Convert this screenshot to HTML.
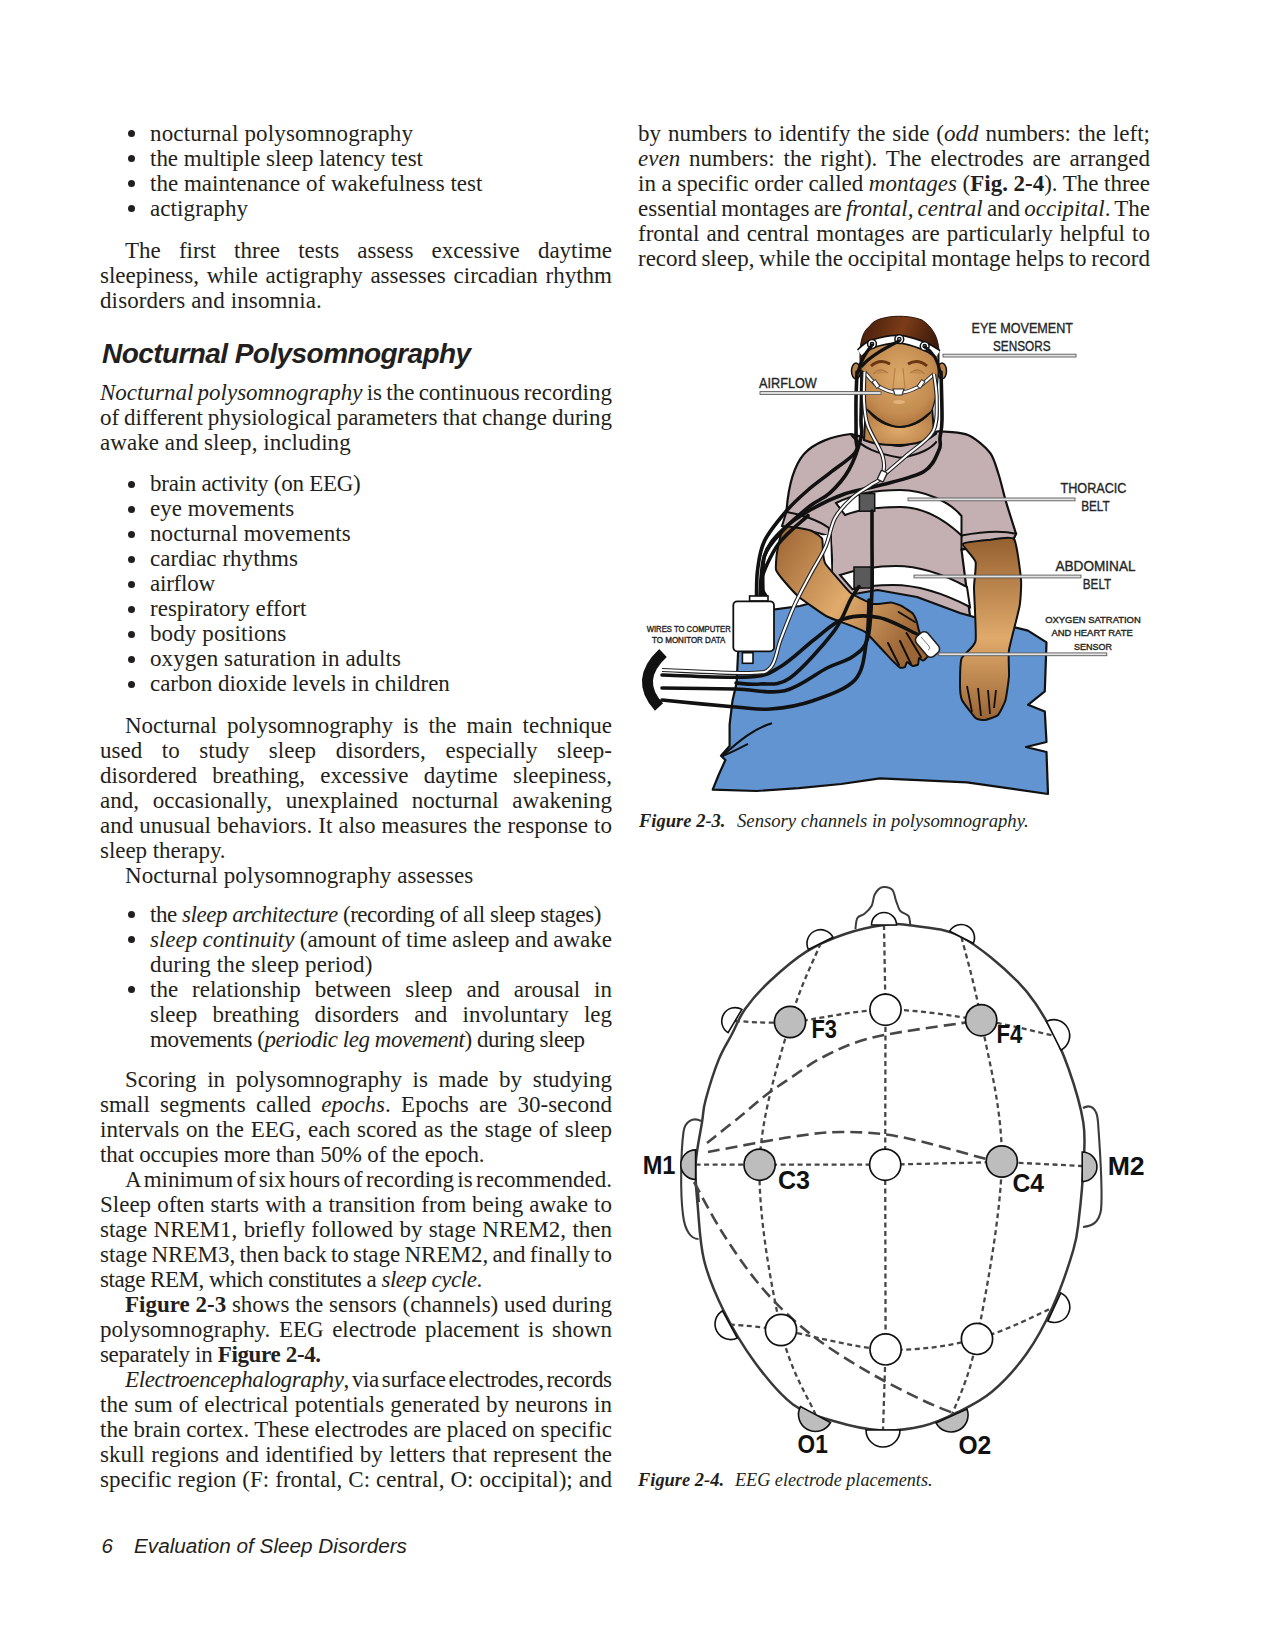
<!DOCTYPE html><html><head><meta charset='utf-8'><style>
html,body{margin:0;padding:0;background:#fff;}
body{width:1275px;height:1650px;position:relative;overflow:hidden;}
.t{position:absolute;white-space:nowrap;font-family:"Liberation Serif",serif;font-size:23px;line-height:25px;color:#231f20;}
.b{position:absolute;width:7px;height:7px;border-radius:50%;background:#231f20;}
</style></head><body>
<div class="t" id="l0" style="left:150px;top:120.74px;letter-spacing:0.178px;">nocturnal polysomnography</div>
<div class="b" style="left:127.69999999999999px;top:130.20px"></div>
<div class="t" id="l1" style="left:150px;top:145.74px;letter-spacing:-0.013px;">the multiple sleep latency test</div>
<div class="b" style="left:127.69999999999999px;top:155.20px"></div>
<div class="t" id="l2" style="left:150px;top:170.74px;letter-spacing:0.009px;">the maintenance of wakefulness test</div>
<div class="b" style="left:127.69999999999999px;top:180.20px"></div>
<div class="t" id="l3" style="left:150px;top:195.74px;letter-spacing:0.102px;">actigraphy</div>
<div class="b" style="left:127.69999999999999px;top:205.20px"></div>
<div class="t" id="l4" style="left:125px;top:237.74px;word-spacing:12.398px;">The first three tests assess excessive daytime</div>
<div class="t" id="l5" style="left:100px;top:262.74px;word-spacing:1.997px;">sleepiness, while actigraphy assesses circadian rhythm</div>
<div class="t" id="l6" style="left:100px;top:287.74px;letter-spacing:0.122px;">disorders and insomnia.</div>
<div class="t" id="l7" style="left:100px;top:380.24px;word-spacing:-1.475px;"><i>Nocturnal polysomnography</i> is the continuous recording</div>
<div class="t" id="l8" style="left:100px;top:405.24px;word-spacing:-0.818px;">of different physiological parameters that change during</div>
<div class="t" id="l9" style="left:100px;top:430.24px;letter-spacing:0.064px;">awake and sleep, including</div>
<div class="t" id="l10" style="left:150px;top:471.24px;letter-spacing:-0.264px;">brain activity (on EEG)</div>
<div class="b" style="left:127.69999999999999px;top:480.70px"></div>
<div class="t" id="l11" style="left:150px;top:496.24px;letter-spacing:0.040px;">eye movements</div>
<div class="b" style="left:127.69999999999999px;top:505.70px"></div>
<div class="t" id="l12" style="left:150px;top:521.24px;letter-spacing:0.114px;">nocturnal movements</div>
<div class="b" style="left:127.69999999999999px;top:530.70px"></div>
<div class="t" id="l13" style="left:150px;top:546.24px;letter-spacing:0.033px;">cardiac rhythms</div>
<div class="b" style="left:127.69999999999999px;top:555.70px"></div>
<div class="t" id="l14" style="left:150px;top:571.24px;letter-spacing:-0.220px;">airflow</div>
<div class="b" style="left:127.69999999999999px;top:580.70px"></div>
<div class="t" id="l15" style="left:150px;top:596.24px;letter-spacing:0.015px;">respiratory effort</div>
<div class="b" style="left:127.69999999999999px;top:605.70px"></div>
<div class="t" id="l16" style="left:150px;top:621.24px;letter-spacing:0.106px;">body positions</div>
<div class="b" style="left:127.69999999999999px;top:630.70px"></div>
<div class="t" id="l17" style="left:150px;top:646.24px;letter-spacing:0.092px;">oxygen saturation in adults</div>
<div class="b" style="left:127.69999999999999px;top:655.70px"></div>
<div class="t" id="l18" style="left:150px;top:671.24px;letter-spacing:-0.052px;">carbon dioxide levels in children</div>
<div class="b" style="left:127.69999999999999px;top:680.70px"></div>
<div class="t" id="l19" style="left:125px;top:713.24px;word-spacing:4.269px;">Nocturnal polysomnography is the main technique</div>
<div class="t" id="l20" style="left:100px;top:738.24px;word-spacing:13.901px;">used to study sleep disorders, especially sleep-</div>
<div class="t" id="l21" style="left:100px;top:763.24px;word-spacing:9.523px;">disordered breathing, excessive daytime sleepiness,</div>
<div class="t" id="l22" style="left:100px;top:788.24px;word-spacing:7.984px;">and, occasionally, unexplained nocturnal awakening</div>
<div class="t" id="l23" style="left:100px;top:813.24px;word-spacing:0.365px;">and unusual behaviors. It also measures the response to</div>
<div class="t" id="l24" style="left:100px;top:838.24px;letter-spacing:-0.049px;">sleep therapy.</div>
<div class="t" id="l25" style="left:125px;top:863.24px;letter-spacing:0.101px;">Nocturnal polysomnography assesses</div>
<div class="t" id="l26" style="left:150px;top:901.74px;letter-spacing:-0.451px;">the <i>sleep architecture</i> (recording of all sleep stages)</div>
<div class="b" style="left:127.69999999999999px;top:911.20px"></div>
<div class="t" id="l27" style="left:150px;top:926.74px;word-spacing:-0.516px;"><i>sleep continuity</i> (amount of time asleep and awake</div>
<div class="b" style="left:127.69999999999999px;top:936.20px"></div>
<div class="t" id="l28" style="left:150px;top:951.74px;letter-spacing:0.140px;">during the sleep period)</div>
<div class="t" id="l29" style="left:150px;top:976.74px;word-spacing:8.234px;">the relationship between sleep and arousal in</div>
<div class="b" style="left:127.69999999999999px;top:986.20px"></div>
<div class="t" id="l30" style="left:150px;top:1001.74px;word-spacing:9.494px;">sleep breathing disorders and involuntary leg</div>
<div class="t" id="l31" style="left:150px;top:1026.74px;letter-spacing:-0.453px;">movements (<i>periodic leg movement</i>) during sleep</div>
<div class="t" id="l32" style="left:125px;top:1066.74px;word-spacing:4.930px;">Scoring in polysomnography is made by studying</div>
<div class="t" id="l33" style="left:100px;top:1091.74px;word-spacing:4.536px;">small segments called <i>epochs</i>. Epochs are 30-second</div>
<div class="t" id="l34" style="left:100px;top:1116.74px;word-spacing:1.066px;">intervals on the EEG, each scored as the stage of sleep</div>
<div class="t" id="l35" style="left:100px;top:1141.74px;letter-spacing:-0.191px;">that occupies more than 50% of the epoch.</div>
<div class="t" id="l36" style="left:125px;top:1166.74px;word-spacing:-2.445px;">A minimum of six hours of recording is recommended.</div>
<div class="t" id="l37" style="left:100px;top:1191.74px;word-spacing:0.325px;">Sleep often starts with a transition from being awake to</div>
<div class="t" id="l38" style="left:100px;top:1216.74px;word-spacing:0.594px;">stage NREM1, briefly followed by stage NREM2, then</div>
<div class="t" id="l39" style="left:100px;top:1241.74px;word-spacing:-1.524px;">stage NREM3, then back to stage NREM2, and finally to</div>
<div class="t" id="l40" style="left:100px;top:1266.74px;letter-spacing:-0.481px;">stage REM, which constitutes a <i>sleep cycle</i>.</div>
<div class="t" id="l41" style="left:125px;top:1291.74px;word-spacing:0.002px;"><b>Figure 2-3</b> shows the sensors (channels) used during</div>
<div class="t" id="l42" style="left:100px;top:1316.74px;word-spacing:2.800px;">polysomnography. EEG electrode placement is shown</div>
<div class="t" id="l43" style="left:100px;top:1341.74px;letter-spacing:-0.351px;">separately in <b>Figure 2-4.</b></div>
<div class="t" id="l44" style="left:125px;top:1366.74px;word-spacing:-2.5px;letter-spacing:-0.360px;"><i>Electroencephalography</i>, via surface electrodes, records</div>
<div class="t" id="l45" style="left:100px;top:1391.74px;word-spacing:0.451px;">the sum of electrical potentials generated by neurons in</div>
<div class="t" id="l46" style="left:100px;top:1416.74px;word-spacing:-0.363px;">the brain cortex. These electrodes are placed on specific</div>
<div class="t" id="l47" style="left:100px;top:1441.74px;word-spacing:0.768px;">skull regions and identified by letters that represent the</div>
<div class="t" id="l48" style="left:100px;top:1466.74px;word-spacing:0.291px;">specific region (F: frontal, C: central, O: occipital); and</div>
<div class="t" id="l49" style="left:638px;top:120.74px;word-spacing:1.172px;">by numbers to identify the side (<i>odd</i> numbers: the left;</div>
<div class="t" id="l50" style="left:638px;top:145.74px;word-spacing:3.138px;"><i>even</i> numbers: the right). The electrodes are arranged</div>
<div class="t" id="l51" style="left:638px;top:170.74px;word-spacing:-0.191px;">in a specific order called <i>montages</i> (<b>Fig. 2-4</b>). The three</div>
<div class="t" id="l52" style="left:638px;top:195.74px;word-spacing:-1.592px;">essential montages are <i>frontal, central</i> and <i>occipital</i>. The</div>
<div class="t" id="l53" style="left:638px;top:220.74px;word-spacing:1.342px;">frontal and central montages are particularly helpful to</div>
<div class="t" id="l54" style="left:638px;top:245.74px;word-spacing:-1.062px;">record sleep, while the occipital montage helps to record</div>

<div style="position:absolute;left:102px;top:336.70px;font-family:'Liberation Sans',sans-serif;font-weight:bold;font-style:italic;font-size:28px;letter-spacing:-0.57px;line-height:34px;white-space:nowrap;color:#231f20">Nocturnal Polysomnography</div>
<svg style="position:absolute;left:0;top:0" width="1275" height="1650" viewBox="0 0 1275 1650">
<defs>
<radialGradient id="face" cx="0.5" cy="0.42" r="0.62"><stop offset="0" stop-color="#dcaa6a"/><stop offset="0.7" stop-color="#c48c50"/><stop offset="1" stop-color="#a8703c"/></radialGradient>
<radialGradient id="neck" cx="0.5" cy="0.6" r="0.6"><stop offset="0" stop-color="#e0ac6c"/><stop offset="1" stop-color="#b57c45"/></radialGradient>
<linearGradient id="hair" x1="0" y1="0" x2="1" y2="0.3"><stop offset="0" stop-color="#3e1a0a"/><stop offset="0.55" stop-color="#7c3c18"/><stop offset="1" stop-color="#3e1a0a"/></linearGradient>
<linearGradient id="armL" x1="0" y1="0" x2="1" y2="0.6"><stop offset="0" stop-color="#9a6232"/><stop offset="0.55" stop-color="#e0ab6c"/><stop offset="1" stop-color="#9c6636"/></linearGradient>
<linearGradient id="armR" x1="0" y1="0" x2="0" y2="1"><stop offset="0" stop-color="#95602f"/><stop offset="0.55" stop-color="#e0aa6c"/><stop offset="1" stop-color="#9a6535"/></linearGradient>
</defs>
<path d="M851.0,434.0 C853.0,434.5 859.4,436.4 866.0,438.0 C872.6,439.6 891.2,446.4 900.3,446.0 C909.4,445.6 929.0,436.9 934.0,435.0 C939.0,433.1 933.5,431.4 938.0,431.4 C942.5,431.4 961.1,432.2 968.0,435.0 C974.9,437.8 985.9,447.5 990.0,452.7 C994.1,457.9 996.4,467.7 998.5,474.0 C1000.6,480.3 1003.2,492.0 1005.5,500.0 C1007.8,508.0 1014.6,529.2 1016.0,533.7 L1012.5,541 L961.5,549.6 L970,616 L830,616 L832,560 L830,530 L810.6,520 L786.4,512 C788,490 792,468 804,454 C814,443 832,436 851,434 Z" fill="#c4b0b3" stroke="#111" stroke-width="2.2" stroke-linejoin="round"/>
<path d="M786.4,512 C800,514 818,520 829,528 L829,536 C815,532 798,528 782,526 Z" fill="#c4b0b3" stroke="#111" stroke-width="2"/>
<path d="M961.5,535.5 C980,532 1000,530 1016,533.7 L1012.5,541 C995,540 975,545 961.5,549.6 Z" fill="#c4b0b3" stroke="#111" stroke-width="2"/>
<path d="M820,536 L831,534 L833,600 L822,600 Z" fill="#fff" stroke="none"/><path d="M831,534 L833,600" stroke="#111" stroke-width="1.6"/>
<path d="M866,405 L864,440 C880,447 920,448 934,435 L932,405 Z" fill="url(#neck)" stroke="#111" stroke-width="2"/>
<path d="M851.3,435 C862,448 878,454 900.3,457.7 C920,455 932,448 936.7,441.4" fill="none" stroke="#111" stroke-width="2"/>
<path d="M860,374 L860,350 C861,338 864,330 870,326 C872,322 878,319 884,318 C895,315 912,316 922,320 C933,327 938,338 939,350 L939,374 Z" fill="url(#hair)" stroke="#2a1206" stroke-width="1"/>
<ellipse cx="856" cy="371" rx="4.5" ry="8" fill="#b98048" stroke="#111" stroke-width="1.5"/>
<ellipse cx="942" cy="371" rx="4.5" ry="8" fill="#b98048" stroke="#111" stroke-width="1.5"/>
<path d="M861.6,350 C860,370 861,394 866,408 C874,420 886,427 900,427 C914,427 926,420 932,410 C938,394 939,370 938,350 C920,338 880,338 861.6,350 Z" fill="url(#face)" stroke="#111" stroke-width="1.2"/>
<path d="M867.6,410 C880,422 890,427 900.3,427 C912,427 922,420 930.4,412.5" fill="none" stroke="#111" stroke-width="2"/>
<path d="M871,366 Q880,358 890,364" fill="none" stroke="#6a3510" stroke-width="3"/>
<path d="M908,364 Q918,358 927,366" fill="none" stroke="#6a3510" stroke-width="3"/>
<path d="M873,374 Q880,366 888,373" fill="#c08a50" stroke="#a87040" stroke-width="1"/><path d="M910,373 Q918,366 925,374" fill="#c08a50" stroke="#a87040" stroke-width="1"/>
<path d="M895,368 L893,388 M903,368 L905,388" stroke="#b98048" stroke-width="1.2"/>
<ellipse cx="899" cy="402" rx="6" ry="2" fill="#e2b27a"/>
<path d="M859.8,353.0 C861.8,351.5 865.4,346.3 872.0,344.0 C878.6,341.7 890.5,338.8 899.3,339.2 C908.1,339.6 918.2,343.7 924.7,346.2 C931.2,348.7 935.8,352.7 938.0,354.0" fill="none" stroke="#111" stroke-width="9.5"/>
<path d="M859.8,353.0 C861.8,351.5 865.4,346.3 872.0,344.0 C878.6,341.7 890.5,338.8 899.3,339.2 C908.1,339.6 918.2,343.7 924.7,346.2 C931.2,348.7 935.8,352.7 938.0,354.0" fill="none" stroke="#fff" stroke-width="6"/>
<circle cx="872" cy="344" r="4.4" fill="#fff" stroke="#111" stroke-width="1.5"/><circle cx="872" cy="344" r="1.7" fill="none" stroke="#111" stroke-width="1.3"/>
<circle cx="899.3" cy="339.2" r="4.4" fill="#fff" stroke="#111" stroke-width="1.5"/><circle cx="899.3" cy="339.2" r="1.7" fill="none" stroke="#111" stroke-width="1.3"/>
<circle cx="924.7" cy="346.2" r="4.4" fill="#fff" stroke="#111" stroke-width="1.5"/><circle cx="924.7" cy="346.2" r="1.7" fill="none" stroke="#111" stroke-width="1.3"/>
<path d="M899,341 C885,348 870,356 862,366" fill="none" stroke="#111" stroke-width="3.2" stroke-linecap="round"/>
<path d="M872,345 C866,352 861,360 858,372" fill="none" stroke="#111" stroke-width="3.2" stroke-linecap="round"/>
<path d="M925,347 C933,352 938,360 940,372" fill="none" stroke="#111" stroke-width="3.2" stroke-linecap="round"/>
<path d="M864.5,372.0 C866.8,374.3 872.4,382.5 878.0,386.0 C883.6,389.5 891.7,392.6 898.4,392.8 C905.1,393.0 912.1,390.1 918.0,387.0 C923.9,383.9 931.3,376.2 934.0,374.0" fill="none" stroke="#333" stroke-width="4"/>
<path d="M864.5,372.0 C866.8,374.3 872.4,382.5 878.0,386.0 C883.6,389.5 891.7,392.6 898.4,392.8 C905.1,393.0 912.1,390.1 918.0,387.0 C923.9,383.9 931.3,376.2 934.0,374.0" fill="none" stroke="#fff" stroke-width="2.2"/>
<path d="M893,389 L904,389 L902,395 L895,395 Z" fill="#fff" stroke="#333" stroke-width="1.2"/>
<rect x="874" y="380" width="4" height="8" fill="#fff" stroke="#333" stroke-width="1" transform="rotate(-35 876 384)"/><rect x="919" y="380" width="4" height="8" fill="#fff" stroke="#333" stroke-width="1" transform="rotate(35 921 384)"/>
<path d="M836,503 C850,496 870,490 900,490 C925,490 950,502 961.5,516 L961.5,535.5 C945,520 925,507 900,507 C875,507 858,510 845,515 Z" fill="#fff" stroke="#111" stroke-width="2"/>
<path d="M840,575 C855,570 875,566 896,566 C920,566 945,575 967,587 L970,607 C945,594 920,585 893,585 C875,585 862,587 852.5,589.4 Z" fill="#fff" stroke="#111" stroke-width="2"/>
<path d="M738,654 L741,617 L756,612 L800,606 L830,598 L854,594 L877.6,590 L917,597 L960,613 L974,617 L1028,630.6 L1046.5,642.4 L1044.8,691.3 L1028,704.8 L1044.8,711.5 L1046.5,742 L1026,747 L1046.5,752 L1048,794 L967,782.4 L880,778.4 L841.2,784 L798.8,788.2 L756.5,791 L712.7,789.7 L718.4,775.5 L725.4,760 L721,755.8 L729.6,746 L729.6,724.7 L732.5,700.7 L736.7,682.4Z" fill="#6194d0" stroke="#111" stroke-width="2.2" stroke-linejoin="round"/>
<path d="M722.6,755.8 C740,740 755,728 772,723.3" fill="none" stroke="#111" stroke-width="2.2"/><path d="M722.6,756 C732,752 740,748 748,743.8" fill="none" stroke="#111" stroke-width="2"/>
<path d="M784.0,527.0 C781.5,528.6 777.6,549.2 777.0,552.4 C776.4,555.6 775.5,567.6 776.0,569.7 C776.5,571.8 782.3,579.0 784.0,581.0 C785.7,583.0 795.9,594.4 799.0,597.0 C802.1,599.6 822.2,613.9 826.0,616.0 C829.8,618.1 847.0,624.1 850.0,625.3 C853.0,626.5 863.3,630.6 865.7,632.4 C868.1,634.2 879.4,646.7 881.4,648.8 C883.4,650.9 891.0,659.2 892.4,660.6 C893.8,662.0 899.1,667.1 900.0,667.6 C900.9,668.1 904.5,667.4 905.0,667.0 C905.5,666.6 906.4,662.1 907.0,662.0 C907.6,661.9 911.9,665.8 912.7,666.0 C913.5,666.2 917.5,665.1 918.0,664.5 C918.5,663.9 918.6,658.3 919.0,658.0 C919.4,657.7 922.3,660.8 923.0,660.6 C923.7,660.4 928.3,657.2 928.0,655.0 C927.7,652.8 919.8,633.3 919.0,630.8 C918.2,628.3 917.2,622.7 916.7,621.4 C916.2,620.1 913.9,614.7 912.7,613.5 C911.5,612.3 902.6,606.5 901.0,605.7 C899.4,604.9 892.9,602.6 890.8,602.5 C888.7,602.4 875.9,604.4 873.5,604.0 C871.1,603.6 861.2,598.7 859.4,597.8 C857.6,596.9 852.5,594.9 850.0,592.4 C847.5,589.9 827.6,567.0 825.6,564.0 C823.6,561.0 823.3,554.3 823.0,552.4 C822.7,550.5 822.9,540.2 822.0,538.6 C821.1,537.0 813.5,531.4 810.6,530.5 C807.8,529.6 786.5,525.4 784.0,527.0Z" fill="url(#armL)" stroke="#111" stroke-width="2"/>
<path d="M888,643 L899,665 M900,641 L911,664 M906.5,633 L921,657 M898.6,612 L915,622" stroke="#111" stroke-width="2" fill="none" stroke-linecap="round"/>
<path d="M963.0,544.0 C964.0,542.2 983.8,540.4 988.0,540.0 C992.2,539.6 1011.2,535.7 1014.0,539.0 C1016.8,542.3 1020.5,573.9 1021.0,579.5 C1021.5,585.1 1020.6,600.1 1019.6,606.0 C1018.6,611.9 1009.9,644.2 1009.0,650.0 C1008.1,655.8 1009.3,671.8 1009.0,676.0 C1008.7,680.2 1006.4,696.8 1005.5,700.0 C1004.6,703.2 999.7,713.3 998.0,715.0 C996.3,716.7 986.9,719.8 985.0,720.0 C983.1,720.2 977.5,719.7 975.6,718.0 C973.7,716.3 963.3,702.8 962.0,700.0 C960.7,697.2 960.0,688.5 960.0,685.0 C960.0,681.5 960.2,662.3 961.5,658.6 C962.8,654.9 974.6,646.9 975.6,641.0 C976.6,635.1 974.0,594.6 974.0,588.0 C974.0,581.4 976.5,565.7 975.6,562.0 C974.7,558.3 962.0,545.8 963.0,544.0Z" fill="url(#armR)" stroke="#111" stroke-width="2"/>
<path d="M967,686 L972,712 M978,688 L981,716 M988,690 L990,714 M996,690 L994,708" stroke="#111" stroke-width="1.8" fill="none"/>
<rect x="859.4" y="493.5" width="15.3" height="17.7" fill="#5a5a5a" stroke="#111" stroke-width="1.5"/>
<rect x="854" y="567" width="19" height="21" fill="#5a5a5a" stroke="#111" stroke-width="1.5"/>
<path d="M857.0,372.0 C856.8,376.7 856.2,389.1 856.0,400.0 C855.8,410.9 856.2,428.8 856.0,437.6 C855.8,446.4 859.3,446.8 855.0,452.7 C850.7,458.6 837.8,466.6 830.0,472.8 C822.2,479.0 815.3,483.6 808.0,490.0 C800.7,496.4 793.6,502.5 786.4,511.0 C779.1,519.5 769.3,531.1 764.5,540.9 C759.7,550.7 758.9,560.5 757.6,569.7 C756.3,578.9 756.7,591.6 756.5,596.0" fill="none" stroke="#111" stroke-width="3.6" stroke-linecap="round"/>
<path d="M862.0,372.0 C861.8,380.0 861.2,409.1 861.0,420.0 C860.8,430.9 863.0,429.3 861.0,437.6 C859.0,445.9 854.0,460.8 848.8,470.0 C843.6,479.2 836.5,486.9 830.0,492.9 C823.5,498.9 817.7,499.9 810.0,506.0 C802.3,512.1 791.6,521.1 784.0,529.4 C776.4,537.7 768.5,544.7 764.5,555.8 C760.5,566.9 760.8,589.3 760.0,596.0" fill="none" stroke="#111" stroke-width="3.6" stroke-linecap="round"/>
<path d="M941.0,372.0 C941.2,380.0 942.2,409.1 942.0,420.0 C941.8,430.9 940.5,432.6 940.0,437.6 C939.5,442.6 941.7,444.4 939.0,450.0 C936.3,455.6 933.8,465.6 924.0,471.5 C914.2,477.4 893.2,481.6 880.0,485.3 C866.8,489.0 856.6,489.6 845.0,493.7 C833.4,497.8 821.1,503.7 810.6,509.8 C800.1,515.9 789.5,522.8 781.8,530.5 C774.1,538.2 767.6,544.9 764.5,555.8 C761.4,566.7 763.2,589.3 763.0,596.0" fill="none" stroke="#111" stroke-width="3.6" stroke-linecap="round"/>
<path d="M808.0,515.6 C803.1,520.3 786.2,533.1 778.4,544.0 C770.6,554.9 763.1,572.3 761.0,581.0 C758.9,589.7 765.2,593.5 766.0,596.0" fill="none" stroke="#111" stroke-width="3.6" stroke-linecap="round"/>
<path d="M662.0,675.0 C676.5,675.3 729.3,678.3 749.0,677.0 C768.7,675.7 769.0,673.3 780.0,667.0 C791.0,660.7 804.4,647.0 815.0,639.0 C825.6,631.0 832.8,622.6 843.5,619.0 C854.2,615.4 866.6,615.0 879.0,617.6 C891.4,620.2 911.5,631.8 918.0,634.6" fill="none" stroke="#111" stroke-width="3.6" stroke-linecap="round"/>
<path d="M736.0,683.0 C740.0,683.2 751.0,684.8 760.0,684.0 C769.0,683.2 777.7,686.7 790.0,678.0 C802.3,669.3 823.5,644.9 833.6,631.8 C843.7,618.7 846.4,606.8 850.6,599.3 C854.8,591.8 857.6,588.7 859.0,586.6" fill="none" stroke="#111" stroke-width="3.6" stroke-linecap="round"/>
<path d="M662.0,688.0 C674.2,688.2 714.5,688.5 735.0,689.0 C755.5,689.5 769.4,694.3 784.7,690.8 C800.0,687.3 815.8,673.6 827.0,668.0 C838.2,662.4 845.2,661.8 852.0,657.0 C858.8,652.2 864.2,649.6 867.5,639.0 C870.8,628.4 871.0,610.1 871.8,593.6 C872.5,577.1 872.0,553.8 872.0,540.0 C872.0,526.2 872.0,515.8 872.0,511.0" fill="none" stroke="#111" stroke-width="3.6" stroke-linecap="round"/>
<path d="M662.0,700.0 C674.2,701.2 717.2,705.5 735.3,707.0 C753.4,708.5 757.6,710.0 770.6,709.0 C783.6,708.0 798.9,705.6 813.0,700.7 C827.1,695.8 846.4,689.6 855.3,679.5 C864.2,669.4 864.3,653.2 866.6,640.0 C868.9,626.8 868.6,606.7 869.0,600.0" fill="none" stroke="#111" stroke-width="3.6" stroke-linecap="round"/>
<path d="M662.0,670.0 C676.5,670.5 730.8,673.5 749.0,673.0 C767.2,672.5 765.8,672.5 771.0,667.0 C776.2,661.5 776.5,650.5 780.5,640.0 C784.5,629.5 790.1,614.8 795.0,604.0 C799.9,593.2 804.9,584.6 810.0,575.0 C815.1,565.4 821.4,556.1 825.6,546.6 C829.8,537.1 830.6,526.1 835.0,518.0 C839.4,509.9 846.2,503.4 852.0,498.0 C857.8,492.6 865.0,489.2 870.0,485.6 C875.0,482.0 879.9,481.4 882.0,476.5 C884.1,471.6 885.1,465.1 882.7,456.5 C880.3,447.9 870.7,434.4 867.6,425.0 C864.5,415.6 864.5,408.8 864.0,400.0 C863.5,391.2 864.4,376.7 864.5,372.0" fill="none" stroke="#222" stroke-width="4.2"/>
<path d="M662.0,670.0 C676.5,670.5 730.8,673.5 749.0,673.0 C767.2,672.5 765.8,672.5 771.0,667.0 C776.2,661.5 776.5,650.5 780.5,640.0 C784.5,629.5 790.1,614.8 795.0,604.0 C799.9,593.2 804.9,584.6 810.0,575.0 C815.1,565.4 821.4,556.1 825.6,546.6 C829.8,537.1 830.6,526.1 835.0,518.0 C839.4,509.9 846.2,503.4 852.0,498.0 C857.8,492.6 865.0,489.2 870.0,485.6 C875.0,482.0 879.9,481.4 882.0,476.5 C884.1,471.6 885.1,465.1 882.7,456.5 C880.3,447.9 870.7,434.4 867.6,425.0 C864.5,415.6 864.5,408.8 864.0,400.0 C863.5,391.2 864.4,376.7 864.5,372.0" fill="none" stroke="#fff" stroke-width="2"/>
<path d="M882.0,476.5 C885.9,473.2 896.8,464.0 905.3,456.5 C913.8,449.0 927.8,440.8 933.0,431.4 C938.2,422.0 936.5,409.6 936.7,400.0 C936.9,390.4 934.5,378.3 934.0,374.0" fill="none" stroke="#222" stroke-width="4.2"/>
<path d="M882.0,476.5 C885.9,473.2 896.8,464.0 905.3,456.5 C913.8,449.0 927.8,440.8 933.0,431.4 C938.2,422.0 936.5,409.6 936.7,400.0 C936.9,390.4 934.5,378.3 934.0,374.0" fill="none" stroke="#fff" stroke-width="2"/>
<rect x="879" y="471" width="6.5" height="10" rx="1" fill="#fff" stroke="#222" stroke-width="1.3" transform="rotate(25 882 476)"/>
<rect x="749.6" y="596" width="18.4" height="5" fill="#fff" stroke="#111" stroke-width="1.6"/>
<rect x="733.3" y="601.3" width="40.7" height="50" rx="4" fill="#fff" stroke="#111" stroke-width="1.8"/>
<rect x="742.4" y="652.7" width="10.6" height="10.6" fill="#fff" stroke="#111" stroke-width="1.6"/>
<path d="M663,653 Q634,680 659,707" fill="none" stroke="#111" stroke-width="11"/>
<rect x="914.5" y="637" width="26" height="15" rx="5" fill="#fff" stroke="#222" stroke-width="1.6" transform="rotate(50 927.5 644.5)"/><path d="M921,637 L929,646 Q931,649 928,650" fill="none" stroke="#777" stroke-width="1"/>
<rect x="943" y="354.20000000000005" width="133" height="2.8" fill="#e4e4e4" stroke="#5a5a5a" stroke-width="0.9"/>
<rect x="760" y="391.6" width="121" height="2.8" fill="#e4e4e4" stroke="#5a5a5a" stroke-width="0.9"/>
<rect x="908" y="498.0" width="167" height="2.8" fill="#e4e4e4" stroke="#5a5a5a" stroke-width="0.9"/>
<rect x="914" y="575.1" width="167" height="2.8" fill="#e4e4e4" stroke="#5a5a5a" stroke-width="0.9"/>
<rect x="938.7" y="652.9" width="168.0999999999999" height="2.8" fill="#e4e4e4" stroke="#5a5a5a" stroke-width="0.9"/>
<text x="971.5" y="333" textLength="101.5" font-size="14" stroke-width="0.35" font-family="Liberation Sans" fill="#262626" stroke="#262626" lengthAdjust="spacingAndGlyphs">EYE MOVEMENT</text>
<text x="993" y="350.8" textLength="57.6" font-size="14" stroke-width="0.35" font-family="Liberation Sans" fill="#262626" stroke="#262626" lengthAdjust="spacingAndGlyphs">SENSORS</text>
<text x="759" y="387.5" textLength="57.8" font-size="14" stroke-width="0.35" font-family="Liberation Sans" fill="#262626" stroke="#262626" lengthAdjust="spacingAndGlyphs">AIRFLOW</text>
<text x="1060.5" y="493.4" textLength="66" font-size="14" stroke-width="0.35" font-family="Liberation Sans" fill="#262626" stroke="#262626" lengthAdjust="spacingAndGlyphs">THORACIC</text>
<text x="1081.2" y="510.9" textLength="28.5" font-size="14" stroke-width="0.35" font-family="Liberation Sans" fill="#262626" stroke="#262626" lengthAdjust="spacingAndGlyphs">BELT</text>
<text x="1055.5" y="571.4" textLength="80" font-size="14" stroke-width="0.35" font-family="Liberation Sans" fill="#262626" stroke="#262626" lengthAdjust="spacingAndGlyphs">ABDOMINAL</text>
<text x="1082.8" y="589.2" textLength="28.4" font-size="14" stroke-width="0.35" font-family="Liberation Sans" fill="#262626" stroke="#262626" lengthAdjust="spacingAndGlyphs">BELT</text>
<text x="1045.2" y="622.6" textLength="95.6" font-size="9.6" stroke-width="0.4" font-family="Liberation Sans" fill="#262626" stroke="#262626" lengthAdjust="spacingAndGlyphs">OXYGEN SATRATION</text>
<text x="1051.5" y="636.4" textLength="81.2" font-size="9.6" stroke-width="0.4" font-family="Liberation Sans" fill="#262626" stroke="#262626" lengthAdjust="spacingAndGlyphs">AND HEART RATE</text>
<text x="1074" y="650.3" textLength="38" font-size="9.6" stroke-width="0.4" font-family="Liberation Sans" fill="#262626" stroke="#262626" lengthAdjust="spacingAndGlyphs">SENSOR</text>
<text x="646.7" y="632" textLength="84" font-size="9.4" stroke-width="0.4" font-family="Liberation Sans" fill="#262626" stroke="#262626" lengthAdjust="spacingAndGlyphs">WIRES TO COMPUTER</text>
<text x="652" y="642.7" textLength="73.3" font-size="9.4" stroke-width="0.4" font-family="Liberation Sans" fill="#262626" stroke="#262626" lengthAdjust="spacingAndGlyphs">TO MONITOR DATA</text>
<path d="M701,1121 C693,1117 685,1121 683.5,1132 C681,1150 680,1192 683,1215 C685,1231 691,1239 698.5,1239" fill="none" stroke="#3c3c3c" stroke-width="2.1"/><path d="M698,1190 L699,1202" stroke="#3c3c3c" stroke-width="2"/>
<path d="M1083,1108 C1090,1104 1097,1107 1098,1122 C1100,1150 1103,1190 1101,1210 C1099,1222 1093,1226 1083,1227" fill="none" stroke="#3c3c3c" stroke-width="2.1"/>
<path d="M855.4,929.1 C855.7,927.2 855.9,920.5 857.4,918.0 C858.9,915.5 862.1,915.8 864.5,913.8 C866.9,911.8 870.0,908.9 871.7,905.7 C873.4,902.5 873.0,897.6 874.7,894.5 C876.4,891.4 879.0,888.1 881.9,887.3 C884.8,886.4 889.6,887.2 892.0,889.4 C894.4,891.6 894.6,897.0 896.0,900.6 C897.4,904.2 898.1,908.2 900.2,910.8 C902.3,913.3 906.7,913.4 908.4,915.9 C910.1,918.4 910.1,924.3 910.4,926.0" fill="#fff" stroke="#3c3c3c" stroke-width="2"/>
<path d="M884.0,925.0 C895.1,923.6 898.9,923.5 911.8,925.5 C924.7,927.5 943.9,927.6 961.5,937.0 C979.1,946.4 1003.1,966.9 1017.7,981.7 C1032.4,996.5 1040.9,1011.5 1049.4,1026.0 C1057.9,1040.5 1062.8,1052.4 1068.5,1068.5 C1074.2,1084.6 1080.8,1106.4 1083.3,1122.4 C1085.8,1138.4 1084.2,1148.8 1083.5,1164.7 C1082.8,1180.6 1080.7,1203.4 1079.0,1217.6 C1077.3,1231.8 1077.7,1235.1 1073.3,1250.0 C1068.9,1264.9 1060.4,1289.8 1052.6,1307.0 C1044.8,1324.2 1036.8,1339.4 1026.7,1353.5 C1016.6,1367.6 1003.7,1381.7 992.2,1391.5 C980.7,1401.3 969.2,1406.5 957.7,1412.2 C946.2,1418.0 936.1,1423.0 923.1,1426.0 C910.1,1429.0 894.8,1431.1 880.0,1430.3 C865.2,1429.5 848.9,1425.6 834.4,1421.3 C819.9,1417.0 806.2,1414.1 793.0,1404.4 C779.8,1394.7 766.9,1378.7 755.3,1363.0 C743.7,1347.3 731.8,1327.2 723.3,1310.0 C714.8,1292.8 708.2,1277.2 704.0,1260.0 C699.8,1242.8 699.2,1222.9 697.8,1207.0 C696.4,1191.1 694.9,1178.8 695.6,1164.7 C696.3,1150.6 700.3,1133.2 702.0,1122.4 C703.7,1111.6 702.8,1110.5 705.6,1100.0 C708.4,1089.5 714.3,1070.6 718.7,1059.6 C723.1,1048.6 727.6,1042.5 732.0,1034.0 C736.4,1025.5 739.0,1017.5 745.3,1008.7 C751.6,999.9 759.8,990.5 770.0,981.0 C780.2,971.5 793.9,959.4 806.4,951.6 C818.9,943.8 832.1,938.4 845.0,934.0 C857.9,929.6 872.9,926.4 884.0,925.0Z" fill="none" stroke="#383838" stroke-width="2.5"/>
<path d="M820.7,943.4 C815.6,956.5 800.2,985.1 790.0,1022.0 C779.8,1058.9 761.1,1113.4 759.6,1164.7 C758.1,1216.0 771.7,1288.4 781.0,1330.0 C790.3,1371.6 809.8,1400.4 815.5,1414.5" fill="none" stroke="#474747" stroke-width="2.3" stroke-dasharray="5 3.5"/>
<path d="M961.5,937.2 C964.8,951.0 974.5,982.8 981.2,1020.2 C987.9,1057.6 1002.5,1108.4 1001.8,1161.5 C1001.1,1214.6 985.4,1296.5 977.0,1338.9 C968.6,1381.3 955.8,1403.2 951.5,1416.0" fill="none" stroke="#474747" stroke-width="2.3" stroke-dasharray="5 3.5"/>
<path d="M735.0,1021.0 C744.2,1021.2 764.9,1023.9 790.0,1022.0 C815.1,1020.1 853.6,1010.0 885.5,1009.7 C917.4,1009.4 953.2,1015.9 981.2,1020.2 C1009.2,1024.5 1041.6,1033.1 1053.7,1035.7" fill="none" stroke="#474747" stroke-width="2.3" stroke-dasharray="5 3.5"/>
<path d="M729.9,1324.4 C738.4,1325.3 755.0,1325.8 781.0,1330.0 C807.0,1334.2 852.9,1347.9 885.6,1349.4 C918.3,1350.9 948.9,1346.0 977.0,1338.9 C1005.1,1331.8 1041.4,1312.3 1054.3,1307.0" fill="none" stroke="#474747" stroke-width="2.3" stroke-dasharray="5 3.5"/>
<path d="M884,925 L885.5,1009.7 L885.2,1164.7 L885.6,1349.4 L883,1430" fill="none" stroke="#474747" stroke-width="2.3" stroke-dasharray="5 3.5"/>
<path d="M695.6,1164.7 L759.6,1164.7 L885.2,1164.7 L1001.8,1162 L1082.2,1166" fill="none" stroke="#474747" stroke-width="2.3" stroke-dasharray="5 3.5"/>
<path d="M707.0,1143.0 C712.8,1138.3 732.2,1123.0 742.0,1115.0 C751.8,1107.0 758.2,1101.0 766.0,1095.0 C773.8,1089.0 779.2,1085.5 789.0,1079.0 C798.8,1072.5 810.7,1063.0 825.0,1056.0 C839.3,1049.0 851.0,1042.7 875.0,1037.0 C899.0,1031.3 953.3,1024.5 969.0,1022.0" fill="none" stroke="#474747" stroke-width="2.6" stroke-dasharray="12 6"/>
<path d="M708.0,1152.0 C721.8,1149.5 768.7,1140.3 791.0,1137.0 C813.3,1133.7 823.7,1132.0 842.0,1132.0 C860.3,1132.0 877.0,1132.5 901.0,1137.0 C925.0,1141.5 971.8,1155.3 986.0,1159.0" fill="none" stroke="#474747" stroke-width="2.6" stroke-dasharray="12 6"/>
<path d="M694.0,1182.0 C698.7,1190.3 712.0,1216.0 722.0,1232.0 C732.0,1248.0 743.5,1264.7 754.0,1278.0 C764.5,1291.3 773.8,1301.3 785.0,1312.0 C796.2,1322.7 806.8,1331.8 821.0,1342.0 C835.2,1352.2 853.5,1363.5 870.0,1373.0 C886.5,1382.5 906.2,1392.3 920.0,1399.0 C933.8,1405.7 947.5,1410.7 953.0,1413.0" fill="none" stroke="#474747" stroke-width="2.6" stroke-dasharray="12 6"/>
<path d="M896.5,925.0 A12.5,12.5 0 0 0 871.5,925.0 Z" fill="#fff" stroke="#111" stroke-width="1.6"/>
<path d="M833.0,937.3 A13.7,13.7 0 0 0 808.4,949.5 Z" fill="#fff" stroke="#111" stroke-width="1.6"/>
<path d="M973.3,943.3 A13.3,13.3 0 0 0 949.7,931.1 Z" fill="#fff" stroke="#111" stroke-width="1.6"/>
<path d="M741.9,1009.4 A13.5,13.5 0 0 0 728.1,1032.6 Z" fill="#fff" stroke="#111" stroke-width="1.6"/>
<path d="M1060.9,1050.0 A16,16 0 0 0 1046.5,1021.4 Z" fill="#fff" stroke="#111" stroke-width="1.6"/>
<path d="M695.6,1149.9 A14.8,14.8 0 0 0 695.6,1179.5 Z" fill="#bdbdbd" stroke="#111" stroke-width="1.6"/>
<path d="M1082.2,1181.6 A14.8,14.8 0 0 0 1082.2,1152.0 Z" fill="#bdbdbd" stroke="#111" stroke-width="1.6"/>
<path d="M722.5,1310.8 A15.5,15.5 0 0 0 737.3,1338.0 Z" fill="#fff" stroke="#111" stroke-width="1.6"/>
<path d="M1047.8,1321.1 A15.5,15.5 0 0 0 1060.8,1292.9 Z" fill="#fff" stroke="#111" stroke-width="1.6"/>
<path d="M800.5,1406.5 A17,17 0 0 0 830.5,1422.5 Z" fill="#bdbdbd" stroke="#111" stroke-width="1.6"/>
<path d="M936.0,1422.9 A17,17 0 0 0 967.0,1409.1 Z" fill="#bdbdbd" stroke="#111" stroke-width="1.6"/>
<path d="M866.0,1430.0 A17,17 0 0 0 900.0,1430.0 Z" fill="#fff" stroke="#111" stroke-width="1.6"/>
<circle cx="790" cy="1022" r="15.6" fill="#bdbdbd" stroke="#111" stroke-width="1.7"/>
<circle cx="885.5" cy="1009.7" r="15.6" fill="#fff" stroke="#111" stroke-width="1.7"/>
<circle cx="981.2" cy="1020.2" r="15.6" fill="#bdbdbd" stroke="#111" stroke-width="1.7"/>
<circle cx="759.6" cy="1164.7" r="15.6" fill="#bdbdbd" stroke="#111" stroke-width="1.7"/>
<circle cx="885.2" cy="1164.7" r="15.6" fill="#fff" stroke="#111" stroke-width="1.7"/>
<circle cx="1001.8" cy="1161.5" r="15.6" fill="#bdbdbd" stroke="#111" stroke-width="1.7"/>
<circle cx="781" cy="1330" r="15.6" fill="#fff" stroke="#111" stroke-width="1.7"/>
<circle cx="885.6" cy="1349.4" r="15.6" fill="#fff" stroke="#111" stroke-width="1.7"/>
<circle cx="977" cy="1338.9" r="15.6" fill="#fff" stroke="#111" stroke-width="1.7"/>
<text x="811.5" y="1038" textLength="25.5" font-family="Liberation Sans" font-weight="bold" font-size="25" fill="#111" lengthAdjust="spacingAndGlyphs">F3</text>
<text x="996.5" y="1043" textLength="25.8" font-family="Liberation Sans" font-weight="bold" font-size="25" fill="#111" lengthAdjust="spacingAndGlyphs">F4</text>
<text x="642.7" y="1174" textLength="32.8" font-family="Liberation Sans" font-weight="bold" font-size="25" fill="#111" lengthAdjust="spacingAndGlyphs">M1</text>
<text x="778" y="1189" textLength="32" font-family="Liberation Sans" font-weight="bold" font-size="25" fill="#111" lengthAdjust="spacingAndGlyphs">C3</text>
<text x="1012.4" y="1192" textLength="31.6" font-family="Liberation Sans" font-weight="bold" font-size="25" fill="#111" lengthAdjust="spacingAndGlyphs">C4</text>
<text x="1107.7" y="1175" textLength="37" font-family="Liberation Sans" font-weight="bold" font-size="25" fill="#111" lengthAdjust="spacingAndGlyphs">M2</text>
<text x="797.6" y="1453" textLength="30.2" font-family="Liberation Sans" font-weight="bold" font-size="25" fill="#111" lengthAdjust="spacingAndGlyphs">O1</text>
<text x="958.5" y="1454" textLength="32.8" font-family="Liberation Sans" font-weight="bold" font-size="25" fill="#111" lengthAdjust="spacingAndGlyphs">O2</text>
</svg>
<svg style="position:absolute;left:0;top:0" width="1275" height="1650" viewBox="0 0 1275 1650">
<text x="639" y="827" font-family="Liberation Serif" font-style="italic" font-size="18.5" fill="#231f20"><tspan font-weight="bold" textLength="86.5" lengthAdjust="spacingAndGlyphs">Figure 2-3.</tspan></text>
<text x="737" y="827" font-family="Liberation Serif" font-style="italic" font-size="18.5" fill="#231f20" textLength="291.6" lengthAdjust="spacingAndGlyphs">Sensory channels in polysomnography.</text>
<text x="638" y="1486.4" font-family="Liberation Serif" font-style="italic" font-weight="bold" font-size="18.5" fill="#231f20" textLength="86" lengthAdjust="spacingAndGlyphs">Figure 2-4.</text>
<text x="735" y="1486.4" font-family="Liberation Serif" font-style="italic" font-size="18.5" fill="#231f20" textLength="197.5" lengthAdjust="spacingAndGlyphs">EEG electrode placements.</text>
<text x="101.6" y="1553" font-family="Liberation Sans" font-style="italic" font-size="20.5" fill="#231f20">6</text>
<text x="134" y="1553" font-family="Liberation Sans" font-style="italic" font-size="20.5" fill="#231f20" textLength="273" lengthAdjust="spacingAndGlyphs">Evaluation of Sleep Disorders</text>
</svg>

</body></html>
